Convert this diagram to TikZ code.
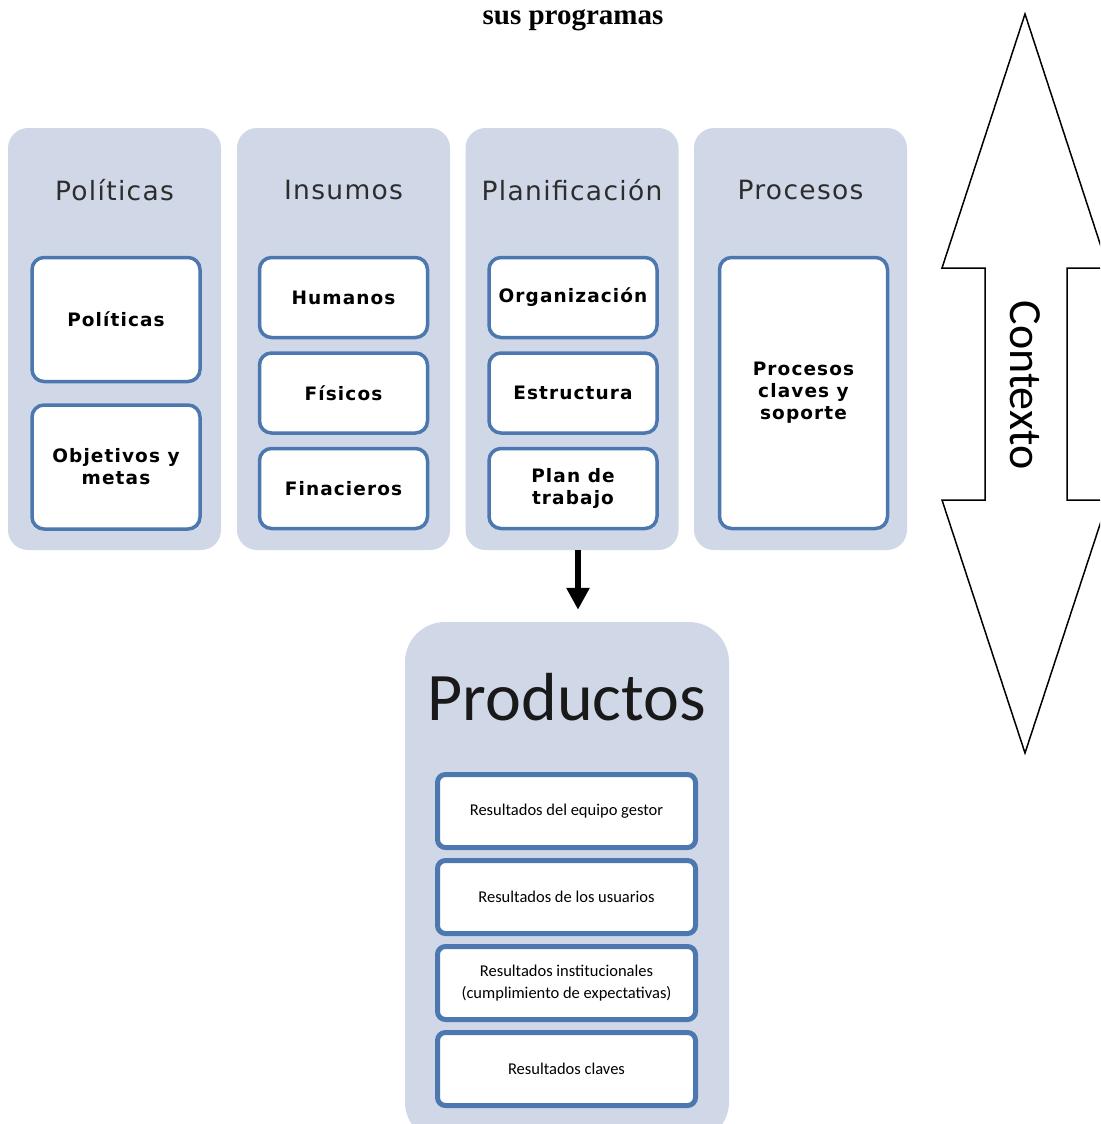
\documentclass[tikz,border=0pt]{standalone}
\usepackage{fontspec}
\setmainfont{Liberation Serif}
\newfontfamily\verd[LetterSpace=5]{DejaVu Sans}
\newfontfamily\boxfont[LetterSpace=6]{DejaVu Sans}
\newfontfamily\calib{Carlito}
\usetikzlibrary{positioning,arrows.meta}
\definecolor{panelfill}{RGB}{208,216,232}
\definecolor{boxblue}{RGB}{76,120,175}
\definecolor{headgray}{RGB}{45,45,45}

\begin{document}
\begin{tikzpicture}[x=1pt, y=-1pt, node distance=12pt]
    % Estilos
    \tikzstyle{panel} = [rectangle, rounded corners=20pt, fill=panelfill, minimum width=213pt, minimum height=422pt, inner sep=0pt]
    \tikzstyle{header} = [font=\verd\fontsize{26.5}{30}\selectfont, text=headgray]
    \tikzstyle{item} = [rectangle, rounded corners=12pt, draw=boxblue, line width=3.5pt, fill=white, minimum width=168pt, minimum height=80pt, align=center, font=\boxfont\bfseries\fontsize{18.5}{22}\selectfont]
    \tikzstyle{result} = [rectangle, rounded corners=8pt, draw=boxblue, line width=5pt, fill=white, minimum width=258pt, minimum height=73pt, align=center, font=\calib\fontsize{16.5}{22}\selectfont]
    \tikzstyle{arrow} = [line width=6pt, -{Triangle[width=22pt,length=22pt]}]

    \useasboundingbox (0,0) rectangle (1100,1124);
    \clip (0,0) rectangle (1100,1124);

    % Titulo
    \node (title) [anchor=base, font=\bfseries\fontsize{29}{34}\selectfont] at (573,25) {sus programas};

    % Columnas
    \node (polC) [panel] at (114.5,339) {};
    \node (insC) [panel] at (343.5,339) {};
    \node (plaC) [panel] at (572,339) {};
    \node (proC) [panel] at (800.5,339) {};

    \node (polH) [header] at (114.5,190) {Políticas};
    \node (insH) [header] at (343.5,190) {Insumos};
    \node (plaH) [header] at (572,190) {Planificación};
    \node (proH) [header] at (800.5,190) {Procesos};

    % Cajas
    \node (pol) [item, minimum height=124pt] at (116,319.5) {Políticas};
    \node (obj) [item, minimum height=124pt, below=20pt of pol] {Objetivos y\\metas};
    \node (hum) [item] at (343.5,297.5) {Humanos};
    \node (fis) [item, below=of hum] {Físicos};
    \node (fin) [item, below=of fis] {Finacieros};
    \node (org) [item] at (573,297.5) {Organización};
    \node (est) [item, below=of org] {Estructura};
    \node (plt) [item, below=of est] {Plan de\\trabajo};
    \node (pcs) [item, minimum height=271pt] at (803.5,393) {Procesos\\claves y\\soporte};

    % Productos
    \node (prod) [panel, rounded corners=40pt, minimum width=324pt, minimum height=520pt] at (567,882) {};
    \node (prodH) [font=\calib\fontsize{68}{80}\selectfont, text=black!90] at (567,697) {Productos};
    \node (res1) [result] at (566.5,811) {Resultados del equipo gestor};
    \node (res2) [result, below=8pt of res1] {Resultados de los usuarios};
    \node (res3) [result, below=8pt of res2] {Resultados institucionales\\(cumplimiento de expectativas)};
    \node (res4) [result, below=8pt of res3] {Resultados claves};

    % Flechas
    \draw [arrow, shorten >=12pt] ([xshift=6pt]plaC.south) -- ([xshift=11pt]prod.north);

    % Contexto
    \draw [line width=1.5pt, fill=white] (1025,14) -- (1108,268) -- (1067,268) -- (1067,500) -- (1108,500) -- (1025,753) -- (942,500) -- (985,500) -- (985,268) -- (942,268) -- cycle;
    \node (ctx) [rotate=-90, font=\calib\fontsize{46}{50}\selectfont] at (1025,385) {Contexto};
\end{tikzpicture}
\end{document}
